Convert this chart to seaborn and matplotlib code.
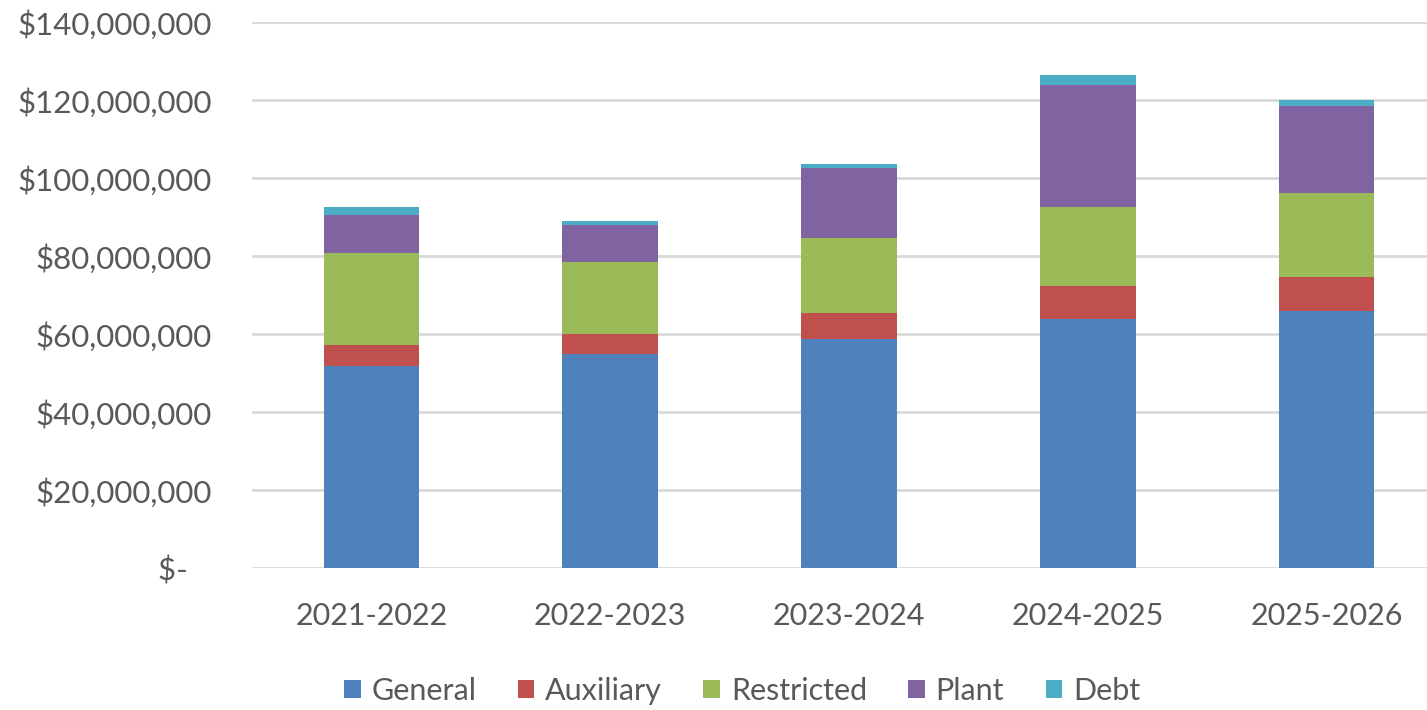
import matplotlib
matplotlib.use("Agg")
import matplotlib.pyplot as plt
import seaborn as sns
import pandas as pd
import numpy as np
from matplotlib.patches import Patch
from matplotlib.ticker import FuncFormatter

# Budget by fund and fiscal year (millions of dollars)
years = ["2021-2022", "2022-2023", "2023-2024", "2024-2025", "2025-2026"]
general = [52.0, 54.9, 58.7, 64.0, 65.9]
auxiliary = [5.3, 5.3, 6.8, 8.3, 8.7]
restricted = [23.6, 18.4, 19.3, 20.3, 21.7]
plant = [9.6, 9.5, 17.9, 31.3, 22.3]
debt = [2.1, 1.0, 0.9, 2.5, 1.4]

funds = ["General", "Auxiliary", "Restricted", "Plant", "Debt"]
colors = ["#4F81BD", "#C0504D", "#9BBB59", "#8064A2", "#4BACC6"]

df = pd.DataFrame({"Year": years, "General": general, "Auxiliary": auxiliary,
                   "Restricted": restricted, "Plant": plant, "Debt": debt})
for f in funds:
    df[f] = df[f] * 1e6

sns.set_theme(style="white")
plt.rcParams["font.family"] = ["Lato", "DejaVu Sans"]

W, H = 1427, 710
fig = plt.figure(figsize=(W / 100, H / 100), dpi=100)
ax = fig.add_axes([252 / W, (H - 568.3) / H, (W - 252) / W, (568.3 - 22.3) / H])

# stacked bars: draw cumulative totals from the top segment down
cum = df[funds].cumsum(axis=1)
for f, c in reversed(list(zip(funds, colors))):
    sns.barplot(x=df["Year"], y=cum[f], color=c, width=0.40, ax=ax,
                linewidth=0, saturation=1, zorder=3)

ax.set_ylim(0, 140e6)
ax.set_xlim(-0.5, 4.42)
ax.set_yticks(np.arange(0, 140e6 + 1, 20e6))
ax.yaxis.set_major_formatter(FuncFormatter(
    lambda v, p: "$-   " if v == 0 else f"${v:,.0f}"))
ax.grid(axis="y", color="#d9d9d9", linewidth=2, zorder=0)
ax.grid(axis="x", visible=False)
for s in ax.spines.values():
    s.set_visible(False)
ax.set_xlabel("")
ax.set_ylabel("")
ax.tick_params(axis="y", length=0, pad=29, labelsize=22.5, labelcolor="#595959")
ax.tick_params(axis="x", length=0, pad=24, labelsize=22, labelcolor="#595959")

handles = [Patch(facecolor=c, edgecolor="none", label=f) for f, c in zip(funds, colors)]
fig.legend(handles=handles, loc="center", bbox_to_anchor=(742 / W, 1 - 691 / H),
           ncol=5, frameon=False, fontsize=22, labelcolor="#595959",
           handlelength=0.55, handleheight=0.55, handletextpad=0.35,
           columnspacing=1.35)

fig.savefig("out.png", dpi=100)
